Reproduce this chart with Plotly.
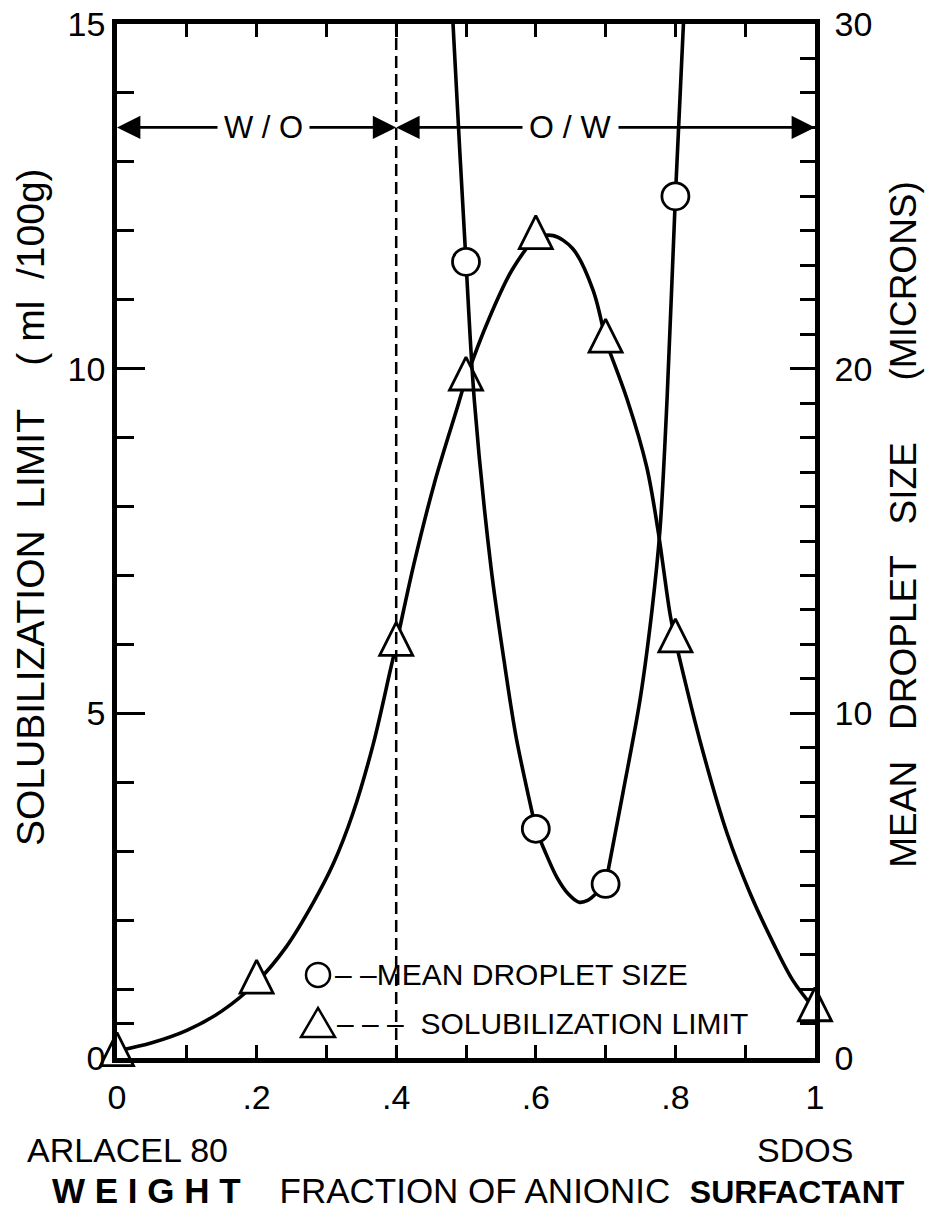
import plotly.graph_objects as go

# ---------------- data ----------------
frac_solub = [0.0, 0.2, 0.4, 0.5, 0.6, 0.7, 0.8, 1.0]
solub_limit = [0.05, 1.1, 6.0, 9.85, 11.9, 10.4, 6.05, 0.7]

frac_drop = [0.5, 0.6, 0.7, 0.8]
drop_size = [23.1, 6.65, 5.05, 25.0]

# hand-drawn curves (None = pen lifted at a marker)
solub_curve_x = [0.0, 0.05, 0.1, 0.15, 0.2, 0.243, 0.281, 0.31, 0.338, 0.367, 0.391, 0.4,
                 0.425, 0.455, 0.488, 0.5, 0.534, 0.567, 0.6, 0.625, 0.653, 0.682, 0.7,
                 None,
                 0.7, 0.731, 0.759, 0.775, 0.792, 0.8,
                 None,
                 0.8, 0.835, 0.874, 0.907, 0.94, 0.968, 1.0]
solub_curve_y = [0.1, 0.22, 0.4, 0.68, 1.1, 1.62, 2.25, 2.82, 3.55, 4.55, 5.6, 6.0,
                 7.15, 8.35, 9.45, 9.85, 10.75, 11.45, 11.88, 11.93, 11.74, 11.14, 10.4,
                 None,
                 10.4, 9.55, 8.57, 7.66, 6.46, 6.05,
                 None,
                 6.05, 4.61, 3.26, 2.39, 1.67, 1.13, 0.7]

drop_curve_x = [0.4795, 0.4814, 0.5, 0.5119, 0.5358, 0.5559, 0.5719, 0.6,
                None,
                0.6, 0.612, 0.63, 0.647, 0.662, 0.675, 0.688, 0.7,
                None,
                0.7, 0.7249, 0.7493, 0.7665, 0.7779, 0.788, 0.8, 0.8115, 0.813]
drop_curve_y = [31.0, 30.0, 23.1, 19.09, 14.24, 11.34, 9.3, 6.65,
                None,
                6.65, 6.05, 5.25, 4.75, 4.52, 4.58, 4.8, 5.05,
                None,
                5.05, 7.7, 10.39, 13.0, 15.32, 19.09, 25.0, 30.0, 31.0]

x_tickvals = [0, 0.1, 0.2, 0.3, 0.4, 0.5, 0.6, 0.7, 0.8, 0.9, 1.0]
x_ticktext = ["0", "", ".2", "", ".4", "", ".6", "", ".8", "", "1"]
y_major = [0, 5, 10, 15]
y_minor = [0.5, 1, 2, 3, 4, 6, 7, 8, 9, 11, 12, 13, 14]
y2_major = [0, 10, 20, 30]
y2_minor = [1, 2, 3, 4, 5, 6, 7, 8, 9, 11, 12, 13, 14, 15, 16, 17, 18, 19,
            21, 22, 23, 24, 25, 26, 27, 28, 29]

region_boundary = 0.4
arrow_level = 13.5

FONT = "Liberation Sans, Arial, sans-serif"
BLACK = "black"
NB = "\u00a0"

fig = go.Figure()

# curves
fig.add_trace(go.Scatter(x=solub_curve_x, y=solub_curve_y, mode="lines", connectgaps=False,
                         line=dict(color=BLACK, width=3.6, shape="spline", smoothing=0.9),
                         yaxis="y", showlegend=False, hoverinfo="skip"))
fig.add_trace(go.Scatter(x=drop_curve_x, y=drop_curve_y, mode="lines", connectgaps=False,
                         line=dict(color=BLACK, width=3.6, shape="spline", smoothing=0.9),
                         yaxis="y2", showlegend=False, hoverinfo="skip"))

# markers
fig.add_trace(go.Scatter(x=frac_solub, y=solub_limit, mode="markers", yaxis="y",
                         marker=dict(symbol="arrow-down", angle=180, standoff=22, size=33,
                                     color="white", line=dict(color=BLACK, width=2.8)),
                         cliponaxis=False, showlegend=False))
fig.add_trace(go.Scatter(x=frac_drop, y=drop_size, mode="markers", yaxis="y2",
                         marker=dict(symbol="circle", size=27, color="white",
                                     line=dict(color=BLACK, width=2.8)),
                         cliponaxis=False, showlegend=False))

shapes = []
# dashed W/O | O/W boundary
shapes.append(dict(type="line", xref="x", yref="y", x0=region_boundary, x1=region_boundary,
                   y0=0, y1=15, line=dict(color=BLACK, width=2.5, dash="12px,6px")))

# legend symbols (paper coords)
shapes.append(dict(type="circle", xref="paper", yref="paper",
                   x0=0.2708, x1=0.3052, y0=0.0687, y1=0.0919,
                   line=dict(color=BLACK, width=2.5), fillcolor="white"))
shapes.append(dict(type="path", xref="paper", yref="paper",
                   path="M 0.2636 0.0203 L 0.3123 0.0203 L 0.2880 0.0484 Z",
                   line=dict(color=BLACK, width=2.5), fillcolor="white"))

annotations = []


def arrow(tip, tail):
    annotations.append(dict(x=tip, y=arrow_level, ax=tail, ay=arrow_level, xref="x", yref="y",
                            axref="x", ayref="y", text="", showarrow=True, arrowhead=2,
                            arrowsize=1.8, arrowwidth=2.6, arrowcolor=BLACK))


arrow(0.0, 0.21)
arrow(region_boundary, 0.21)
arrow(region_boundary, 0.65)
arrow(1.0, 0.65)

annotations.append(dict(x=0.21, y=arrow_level, xref="x", yref="y", text="W" + NB + "/" + NB + "O",
                        showarrow=False, font=dict(family=FONT, size=31, color=BLACK),
                        bgcolor="white", borderpad=6))
annotations.append(dict(x=0.65, y=arrow_level, xref="x", yref="y", text="O" + NB + "/" + NB + "W",
                        showarrow=False, font=dict(family=FONT, size=32, color=BLACK),
                        bgcolor="white", borderpad=6))

# legend text
annotations.append(dict(x=0.309, y=0.0803, xref="paper", yref="paper", xanchor="left",
                        yanchor="middle", text="– –MEAN DROPLET SIZE", showarrow=False,
                        font=dict(family=FONT, size=30, color=BLACK)))
annotations.append(dict(x=0.312, y=0.0338, xref="paper", yref="paper", xanchor="left",
                        yanchor="middle", text="– – –" + NB + NB + "SOLUBILIZATION LIMIT",
                        showarrow=False, font=dict(family=FONT, size=30, color=BLACK)))

# axis end labels
annotations.append(dict(x=0.015, y=-0.089, xref="paper", yref="paper", xanchor="center",
                        yanchor="middle", text="ARLACEL 80", showarrow=False,
                        font=dict(family=FONT, size=34, color=BLACK)))
annotations.append(dict(x=0.985, y=-0.089, xref="paper", yref="paper", xanchor="center",
                        yanchor="middle", text="SDOS", showarrow=False,
                        font=dict(family=FONT, size=34, color=BLACK)))

# x title
annotations.append(dict(x=-0.096, y=-0.1277, xref="paper", yref="paper", xanchor="left",
                        yanchor="middle",
                        text="<b>W E I G H T</b>" + NB * 4 + "FRACTION OF ANIONIC" + NB * 2
                             + "<b><span style='font-size:32px'>SURFACTANT</span></b>",
                        showarrow=False, font=dict(family=FONT, size=35, color=BLACK)))

# y titles
annotations.append(dict(x=-0.123, y=0.533, xref="paper", yref="paper", xanchor="center",
                        yanchor="middle", textangle=-90,
                        text="SOLUBILIZATION" + NB * 2 + "LIMIT" + NB * 4 + "(" + NB + "ml" + NB * 2
                             + "/100g)",
                        showarrow=False, font=dict(family=FONT, size=39, color=BLACK)))
annotations.append(dict(x=1.1265, y=0.516, xref="paper", yref="paper", xanchor="center",
                        yanchor="middle", textangle=-90,
                        text="MEAN" + NB * 3 + "DROPLET" + NB * 3 + "SIZE" + NB * 6 + "(MICRONS)",
                        showarrow=False, font=dict(family=FONT, size=37, color=BLACK)))

fig.update_layout(
    width=926, height=1218,
    margin=dict(l=117, r=111, t=24, b=160, autoexpand=False),
    paper_bgcolor="white", plot_bgcolor="white",
    font=dict(family=FONT, size=34, color=BLACK),
    showlegend=False,
    hovermode=False,
    shapes=shapes,
    annotations=annotations,
    xaxis=dict(range=[0, 1], tickvals=x_tickvals, ticktext=x_ticktext,
               ticks="inside", ticklen=13, tickwidth=3, tickcolor=BLACK,
               showline=True, linewidth=4.5, linecolor=BLACK, mirror="ticks",
               showgrid=False, zeroline=False, tickfont=dict(size=34),
               ticklabelstandoff=5, ticklabeloverflow="allow", automargin=False),
    yaxis=dict(range=[0, 15], tickvals=y_major, ticks="inside", ticklen=28, tickwidth=3,
               tickcolor=BLACK, showline=True, linewidth=4.5, linecolor=BLACK,
               showgrid=False, zeroline=False, tickfont=dict(size=34),
               ticklabeloverflow="allow", automargin=False,
               minor=dict(tickvals=y_minor, ticks="inside", ticklen=17, tickwidth=3,
                          tickcolor=BLACK, showgrid=False)),
    yaxis2=dict(range=[0, 30], tickvals=y2_major, overlaying="y", side="right",
                ticks="inside", ticklen=25, tickwidth=3, tickcolor=BLACK,
                showline=True, linewidth=4.5, linecolor=BLACK,
                showgrid=False, zeroline=False, tickfont=dict(size=34),
                ticklabelstandoff=8, ticklabeloverflow="allow", automargin=False,
                minor=dict(tickvals=y2_minor, ticks="inside", ticklen=15, tickwidth=3,
                           tickcolor=BLACK, showgrid=False)),
)

# remove the default 8px page margin so the 926x1218 figure fills the window exactly
fig.write_html("out.html", config={"displayModeBar": False},
               post_script="document.body.style.margin='0px';")
